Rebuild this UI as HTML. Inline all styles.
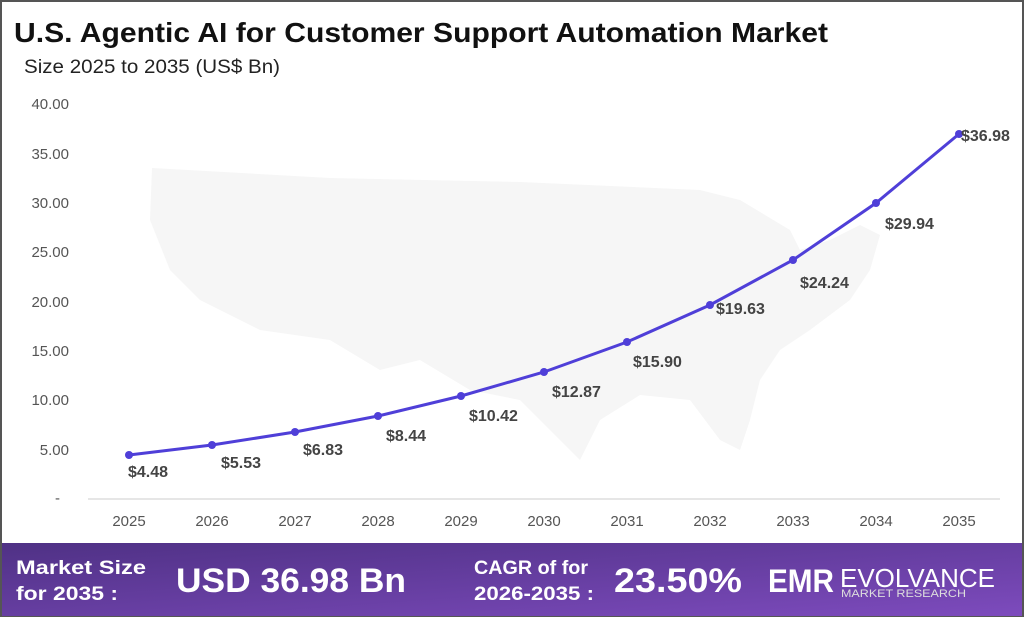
<!DOCTYPE html>
<html><head><meta charset="utf-8"><style>
body{margin:0;width:1024px;height:617px;overflow:hidden;background:#fff;font-family:"Liberation Sans",sans-serif}
</style></head><body>
<svg width="1024" height="617" xmlns="http://www.w3.org/2000/svg" style="position:absolute;left:0;top:0">
<defs><linearGradient id="g" x1="0" y1="0" x2="1" y2="1"><stop offset="0" stop-color="#4f3185"/><stop offset="1" stop-color="#7d4bbd"/></linearGradient></defs>
<rect x="1" y="1" width="1022" height="615" fill="#fff" stroke="#555" stroke-width="2"/>
<path d="M152 168 L330 178 L520 182 L700 190 L740 200 L790 230 L800 250 L830 240 L860 225 L880 235 L870 270 L850 300 L810 330 L780 350 L760 380 L750 420 L740 450 L720 440 L690 400 L640 395 L600 420 L580 460 L560 440 L520 400 L470 390 L420 360 L380 370 L330 340 L260 330 L200 300 L170 270 L150 220 Z" fill="#f6f6f6"/>
<text x="14" y="42" font-size="28" font-weight="bold" fill="#111" textLength="814" lengthAdjust="spacingAndGlyphs">U.S. Agentic AI for Customer Support Automation Market</text>
<text x="24" y="73" font-size="19" fill="#222" textLength="256" lengthAdjust="spacingAndGlyphs">Size 2025 to 2035 (US$ Bn)</text>
<g font-size="15" fill="#555" text-anchor="end">
<text x="69" y="109">40.00</text><text x="69" y="159">35.00</text><text x="69" y="208">30.00</text><text x="69" y="257">25.00</text><text x="69" y="307">20.00</text><text x="69" y="356">15.00</text><text x="69" y="405">10.00</text><text x="69" y="455">5.00</text><text x="60" y="503">-</text>
</g>
<line x1="88" y1="499" x2="1000" y2="499" stroke="#ddd" stroke-width="1.5"/>
<g font-size="15" fill="#555" text-anchor="middle">
<text x="129" y="526">2025</text><text x="212" y="526">2026</text><text x="295" y="526">2027</text><text x="378" y="526">2028</text><text x="461" y="526">2029</text><text x="544" y="526">2030</text><text x="627" y="526">2031</text><text x="710" y="526">2032</text><text x="793" y="526">2033</text><text x="876" y="526">2034</text><text x="959" y="526">2035</text>
</g>
<polyline fill="none" stroke="#4f3fd8" stroke-width="3" points="129,455 212,445 295,432 378,416 461,396 544,372 627,342 710,305 793,260 876,203 959,134"/>
<g fill="#4f3fd8"><circle cx="129" cy="455" r="4"/><circle cx="212" cy="445" r="4"/><circle cx="295" cy="432" r="4"/><circle cx="378" cy="416" r="4"/><circle cx="461" cy="396" r="4"/><circle cx="544" cy="372" r="4"/><circle cx="627" cy="342" r="4"/><circle cx="710" cy="305" r="4"/><circle cx="793" cy="260" r="4"/><circle cx="876" cy="203" r="4"/><circle cx="959" cy="134" r="4"/></g>
<g font-size="16" fill="#444" font-weight="bold">
<text x="128" y="477">$4.48</text><text x="221" y="468">$5.53</text><text x="303" y="455">$6.83</text><text x="386" y="441">$8.44</text><text x="469" y="421">$10.42</text><text x="552" y="397">$12.87</text><text x="633" y="367">$15.90</text><text x="716" y="314">$19.63</text><text x="800" y="288">$24.24</text><text x="885" y="229">$29.94</text><text x="961" y="141">$36.98</text>
</g>
<rect x="2" y="543" width="1020" height="73" fill="url(#g)"/>
<g fill="#fff" font-weight="bold">
<text x="16" y="574" font-size="19" textLength="130" lengthAdjust="spacingAndGlyphs">Market Size</text><text x="16" y="600" font-size="19" textLength="102" lengthAdjust="spacingAndGlyphs">for 2035 :</text>
<text x="176" y="592" font-size="34" textLength="230" lengthAdjust="spacingAndGlyphs">USD 36.98 Bn</text>
<text x="474" y="574" font-size="19" textLength="114" lengthAdjust="spacingAndGlyphs">CAGR of for</text><text x="474" y="600" font-size="19" textLength="120" lengthAdjust="spacingAndGlyphs">2026-2035 :</text>
<text x="614" y="592" font-size="34" textLength="128" lengthAdjust="spacingAndGlyphs">23.50%</text>
<text x="768" y="592" font-size="32" textLength="66" lengthAdjust="spacingAndGlyphs">EMR</text>
</g>
<text x="840" y="587" font-size="26" fill="#fff" textLength="155" lengthAdjust="spacingAndGlyphs">EVOLVANCE</text>
<text x="841" y="597" font-size="11" fill="#ddd" textLength="125" lengthAdjust="spacingAndGlyphs">MARKET RESEARCH</text>
</svg>
</body></html>
